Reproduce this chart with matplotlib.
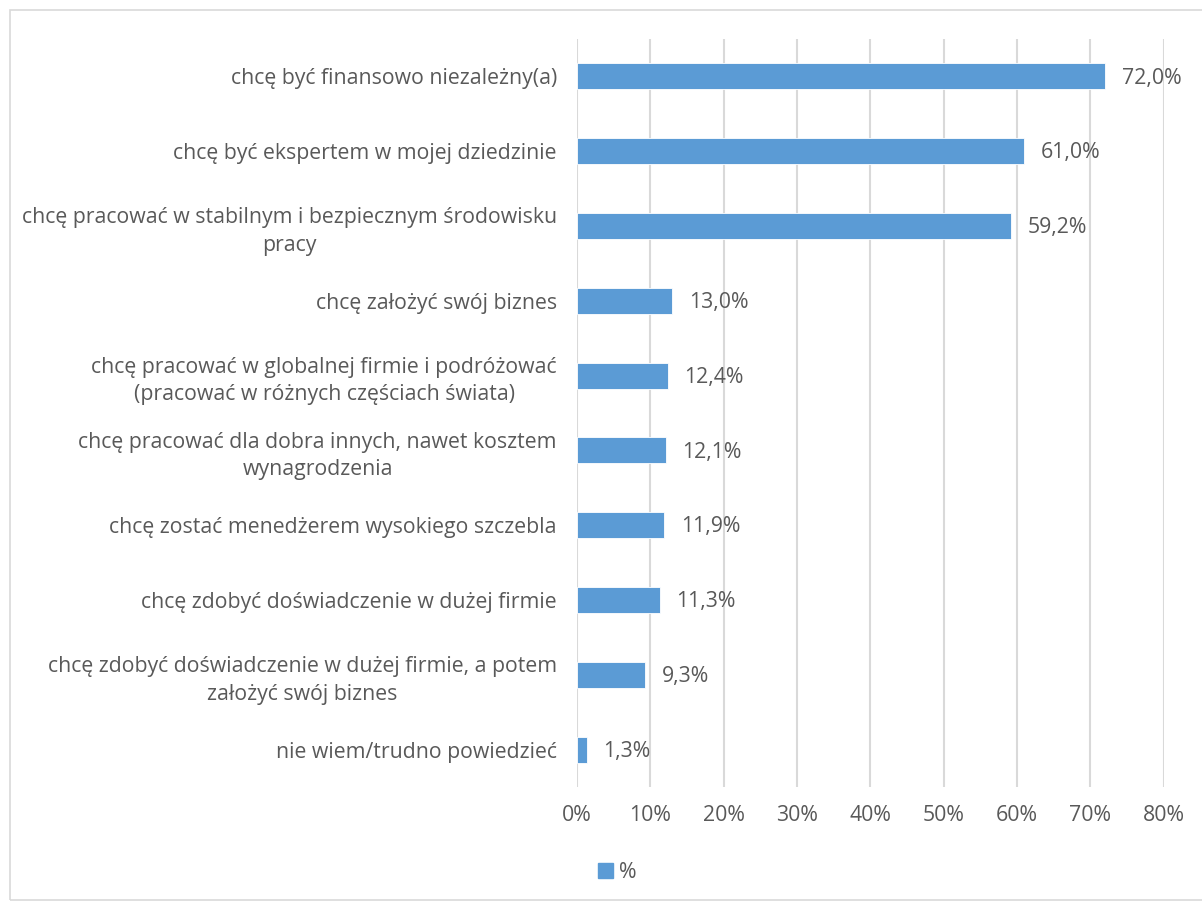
import matplotlib
matplotlib.use('Agg')
from matplotlib import pyplot as plt
from matplotlib.patches import Rectangle

# answers, top to bottom
categories = [
    'chcę być finansowo niezależny(a)',
    'chcę być ekspertem w mojej dziedzinie',
    'chcę pracować w stabilnym i bezpiecznym środowisku\npracy',
    'chcę założyć swój biznes',
    'chcę pracować w globalnej firmie i podróżować\n(pracować w różnych częściach świata)',
    'chcę pracować dla dobra innych, nawet kosztem\nwynagrodzenia',
    'chcę zostać menedżerem wysokiego szczebla',
    'chcę zdobyć doświadczenie w dużej firmie',
    'chcę zdobyć doświadczenie w dużej firmie, a potem\nzałożyć swój biznes',
    'nie wiem/trudno powiedzieć',
]
values = [72.0, 61.0, 59.2, 13.0, 12.4, 12.1, 11.9, 11.3, 9.3, 1.3]
xticks = [0, 10, 20, 30, 40, 50, 60, 70, 80]

W, H = 1202, 902
bar_color = '#5B9BD5'
text_color = '#595959'
grid_color = '#D9D9D9'
fs = 15.3
plt.rcParams['font.family'] = ['Open Sans', 'DejaVu Sans']

fig = plt.figure(figsize=(W / 100, H / 100), dpi=100)
ax = fig.add_axes([577 / W, (H - 787) / H, (1163.7 - 577) / W, (787 - 39) / H])

ypos = list(range(len(categories)))
ax.barh(ypos, values, height=0.35, color=bar_color, edgecolor='white', linewidth=0.6, zorder=3)
for y, v in zip(ypos, values):
    ax.annotate('{:.1f}%'.format(v).replace('.', ','), (v, y), xytext=(12, -1.2),
                textcoords='offset points', va='center', ha='left',
                fontsize=fs, color=text_color)

ax.set_ylim(len(categories) - 0.5, -0.5)
ax.set_xlim(0, 80)
ax.set_xticks(xticks)
ax.set_xticklabels(['{}%'.format(t) for t in xticks])
ax.set_yticks(ypos)
ax.set_yticklabels(categories)
for t in ax.get_yticklabels():
    t.set_multialignment('center')
    t.set_linespacing(1.4)

ax.tick_params(axis='both', length=0, labelsize=fs, labelcolor=text_color)
ax.tick_params(axis='y', pad=14.5)
ax.tick_params(axis='x', pad=13)
ax.grid(axis='x', color=grid_color, linewidth=1.5, zorder=0)
for s in ax.spines.values():
    s.set_visible(False)

handle = Rectangle((0, 0), 1, 1, color=bar_color)
fig.legend([handle], ['%'], loc='center', bbox_to_anchor=(617 / W, 1 - 872 / H),
           frameon=False, handlelength=0.7, handleheight=0.7, handletextpad=0.3,
           fontsize=fs, labelcolor=text_color)

# chart area border
fig.patches.append(Rectangle((10 / W, 2 / H), 1.1, 1 - 12 / H, transform=fig.transFigure,
                             fill=False, edgecolor=grid_color, linewidth=1.2))

plt.savefig('out.png', dpi=100)
plt.close()
